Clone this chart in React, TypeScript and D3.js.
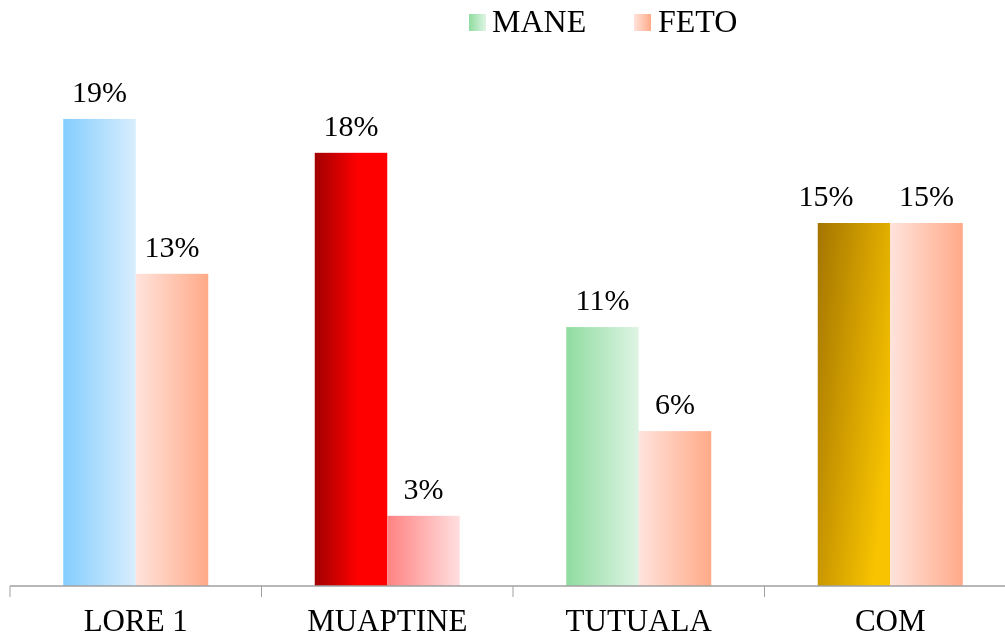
import React from "react";
import * as d3 from "d3";

const categories = ["LORE 1", "MUAPTINE", "TUTUALA", "COM"];
const series = ["MANE", "FETO"];
const maneValues = [0.193, 0.179, 0.107, 0.15];
const fetoValues = [0.129, 0.029, 0.064, 0.15];

// per-bar gradients: [left, right] (MANE bars each have their own)
const maneGradients = [
  ["#84cdfe", "#d8eefd"],
  ["#a10000", "#ff0000"],
  ["#8fdca0", "#dff4e4"],
  ["#a47500", "#f8c300"],
];
const fetoGradients = [
  ["#ffe3dc", "#ffaa88"],
  ["#ff8282", "#ffdfe0"],
  ["#ffe3dc", "#ffaa88"],
  ["#ffe3dc", "#ffaa88"],
];

const W = 1005;
const H = 639;
const baseline = 586;

export default function App() {
  const x = d3.scaleBand<string>().domain(categories).range([10, 1016]);
  const inner = d3.scaleBand<string>().domain(series).range([0, 145]);
  const y = d3.scaleLinear().domain([0, 0.2]).range([baseline, 102]);
  const fmt = d3.format(".0%");
  const font = "'Liberation Serif', 'Times New Roman', serif";

  const groupStart = (c: string) => x(c)! + x.bandwidth() / 2 - 72.5;

  return (
    <div style={{ position: "fixed", left: 0, top: 0 }}>
      <svg width={W} height={H} style={{ display: "block" }}>
        <defs>
          {maneGradients.map((g, i) => (
            <linearGradient
              key={"m" + i}
              id={"mane" + i}
              x1="0"
              y1="0"
              x2="1"
              y2={i === 3 ? "0.6" : "0"}
            >
              <stop offset="0" stopColor={g[0]} />
              <stop offset={i === 1 ? "0.6" : "1"} stopColor={g[1]} />
            </linearGradient>
          ))}
          {fetoGradients.map((g, i) => (
            <linearGradient key={"f" + i} id={"feto" + i} x1="0" y1="0" x2="1" y2="0">
              <stop offset="0" stopColor={g[0]} />
              <stop offset="1" stopColor={g[1]} />
            </linearGradient>
          ))}
          <linearGradient id="legMane" x1="0" y1="0" x2="1" y2="0">
            <stop offset="0" stopColor="#8fdca0" />
            <stop offset="1" stopColor="#dff4e4" />
          </linearGradient>
          <linearGradient id="legFeto" x1="0" y1="0" x2="1" y2="0">
            <stop offset="0" stopColor="#ffe3dc" />
            <stop offset="1" stopColor="#ffaa88" />
          </linearGradient>
        </defs>

        {/* bars */}
        {categories.map((c, i) => {
          const x0 = groupStart(c);
          const vals = [maneValues[i], fetoValues[i]];
          return (
            <g key={c}>
              {series.map((s, j) => {
                const bx = x0 + inner(s)!;
                const bw = inner.bandwidth();
                const by = y(vals[j]);
                const dx = c === "COM" && j === 0 ? -28 : 0;
                return (
                  <g key={s}>
                    <rect
                      x={bx}
                      y={by}
                      width={bw}
                      height={baseline - by}
                      fill={`url(#${j === 0 ? "mane" : "feto"}${i})`}
                    />
                    <text
                      x={bx + bw / 2 + dx}
                      y={by - 17}
                      textAnchor="middle"
                      fontFamily={font}
                      fontSize={30}
                      fill="#000"
                    >
                      {fmt(vals[j])}
                    </text>
                  </g>
                );
              })}
            </g>
          );
        })}

        {/* axis */}
        <line x1={10} x2={W} y1={baseline} y2={baseline} stroke="#a0a0a0" strokeWidth={1.5} />
        {categories.map((c, i) => (
          <line key={i} x1={x(c)!} x2={x(c)!} y1={baseline} y2={baseline + 11} stroke="#a0a0a0" strokeWidth={1} />
        ))}
        {categories.map((c) => (
          <text
            key={c}
            x={x(c)! + x.bandwidth() / 2}
            y={631}
            textAnchor="middle"
            fontFamily={font}
            fontSize={31}
            fill="#000"
          >
            {c}
          </text>
        ))}

        {/* legend */}
        <rect x={469} y={14} width={17} height={17} fill="url(#legMane)" />
        <text x={492} y={32} fontFamily={font} fontSize={32} fill="#000">
          {series[0]}
        </text>
        <rect x={634} y={14} width={17} height={17} fill="url(#legFeto)" />
        <text x={658} y={32} fontFamily={font} fontSize={32} fill="#000">
          {series[1]}
        </text>
      </svg>
    </div>
  );
}
